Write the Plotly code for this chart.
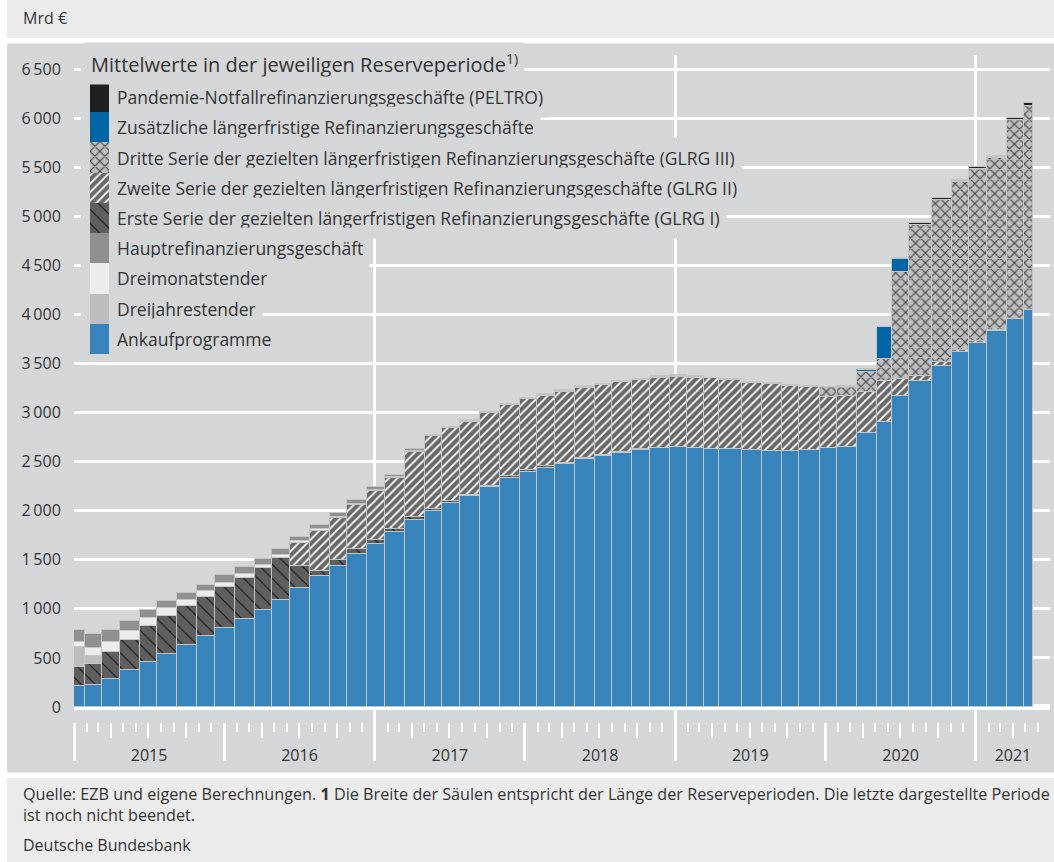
import pandas as pd
import plotly.graph_objects as go

# Beginn der Reserveperioden (die erste beginnt 2014 und wird an der Achse abgeschnitten)
period_start = [
    "2014-12-10", "2015-01-28", "2015-03-11", "2015-04-22", "2015-06-10", "2015-07-22",
    "2015-09-09", "2015-10-28", "2015-12-09",
    "2016-01-27", "2016-03-16", "2016-04-27", "2016-06-08", "2016-07-27", "2016-09-14",
    "2016-10-26", "2016-12-14",
    "2017-01-25", "2017-03-15", "2017-05-03", "2017-06-14", "2017-07-26", "2017-09-13",
    "2017-11-01", "2017-12-20",
    "2018-01-31", "2018-03-14", "2018-05-02", "2018-06-20", "2018-08-01", "2018-09-19",
    "2018-10-31", "2018-12-19",
    "2019-01-30", "2019-03-13", "2019-04-17", "2019-06-12", "2019-07-31", "2019-09-18",
    "2019-10-30", "2019-12-18",
    "2020-01-29", "2020-03-18", "2020-05-06", "2020-06-10", "2020-07-22", "2020-09-16",
    "2020-11-04", "2020-12-16",
    "2021-01-27", "2021-03-17", "2021-04-28",
]
last_period_end = "2021-05-20"  # letzte Periode noch nicht beendet

# Mrd € je Reserveperiode
ankauf = [
    210, 226, 282, 380, 463, 540, 635, 723, 805,
    897, 988, 1094, 1216, 1335, 1436, 1559, 1661,
    1783, 1905, 1997, 2075, 2150, 2241, 2336, 2398,
    2438, 2476, 2523, 2557, 2588, 2622, 2639, 2647,
    2642, 2632, 2626, 2618, 2610, 2606, 2618, 2639,
    2652, 2788, 2907, 3168, 3321, 3476, 3612, 3712,
    3831, 3950, 4045,
]
glrg1 = [
    195, 208, 278, 303, 359, 387, 394, 398, 414,
    421, 425, 427, 217, 54, 58, 54, 40,
    30, 27, 20, 20, 15, 15, 15, 15,
    15, 15, 12, 12, 12, 8, 0, 0,
    0, 0, 0, 0, 0, 0, 0, 0,
    0, 0, 0, 0, 0, 0, 0, 0,
    0, 0, 0,
]
glrg2 = [
    0, 0, 0, 0, 0, 0, 0, 0, 0,
    0, 0, 0, 234, 407, 428, 448, 496,
    517, 669, 741, 744, 742, 736, 724, 723,
    720, 723, 720, 710, 709, 703, 718, 719,
    715, 715, 707, 688, 682, 662, 647, 516,
    516, 425, 418, 170, 51, 34, 25, 20,
    10, 0, 0,
]
glrg3 = [0] * 40 + [102, 96, 203, 224, 1094, 1539, 1655, 1715, 1749, 1756, 2030, 2078]
zusaetzlich = [0] * 42 + [21, 319, 132, 0, 0, 0, 0, 0, 0, 0]
dreijahr = [210, 82] + [0] * 50
dreimonat = [
    52, 84, 106, 95, 85, 78, 61, 57, 44,
    37, 37, 28, 21, 17, 14, 11, 14,
    10, 8, 6, 6, 5, 5, 5, 5,
    5, 5, 4, 4, 4, 4, 4, 4,
    4, 3, 3, 3, 3, 3, 3, 3,
    3, 2, 2, 1, 1, 1, 1, 1,
    1, 1, 1,
]
haupt = [
    116, 142, 118, 98, 81, 72, 75, 68, 78,
    68, 61, 57, 47, 45, 44, 37, 34,
    25, 16, 8, 9, 9, 6, 7, 7,
    7, 7, 8, 8, 8, 8, 8, 8,
    8, 7, 7, 6, 6, 6, 6, 4,
    7, 7, 1, 1, 1, 1, 1, 0.5,
    0.5, 0.3, 0.3,
]
peltro = [0] * 43 + [0.5, 5, 13, 17, 17, 21, 20, 21, 27]

y_ticks = list(range(0, 6501, 500))
years = [2015, 2016, 2017, 2018, 2019, 2020, 2021]

X_START, X_END = "2015-01-01", "2021-06-30"

PANEL = "#d5d6d8"
BAND = "#ebebec"
TEXT = "#333333"
EDGE = "#c4c5c7"

STYLES = {
    "ankauf": dict(color="#3784bd"),
    "dreijahr": dict(color="#bcbdbf"),
    "dreimonat": dict(color="#ececed"),
    "haupt": dict(color="#8f9092"),
    "glrg1": dict(color="#5f5f5f", pattern=dict(shape="\\", fgcolor="#111111", bgcolor="#5f5f5f",
                                                size=10, solidity=0.1, fillmode="replace")),
    "glrg2": dict(color="#6a6a6a", pattern=dict(shape="/", fgcolor="#ffffff", bgcolor="#6a6a6a",
                                                size=6, solidity=0.3, fillmode="replace")),
    "glrg3": dict(color="#bfbfc1", pattern=dict(shape="x", fgcolor="#454545", bgcolor="#bfbfc1",
                                                size=7, solidity=0.3, fillmode="replace")),
    "zus": dict(color="#0065a5"),
    "peltro": dict(color="#1f1f1f"),
}

LABELS = {
    "peltro": "Pandemie-Notfallrefinanzierungsgeschäfte (PELTRO)",
    "zus": "Zusätzliche längerfristige Refinanzierungsgeschäfte",
    "glrg3": "Dritte Serie der gezielten längerfristigen Refinanzierungsgeschäfte (GLRG III)",
    "glrg2": "Zweite Serie der gezielten längerfristigen Refinanzierungsgeschäfte (GLRG II)",
    "glrg1": "Erste Serie der gezielten längerfristigen Refinanzierungsgeschäfte (GLRG I)",
    "haupt": "Hauptrefinanzierungsgeschäft",
    "dreimonat": "Dreimonatstender",
    "dreijahr": "Dreijahrestender",
    "ankauf": "Ankaufprogramme",
}

# Stapelreihenfolge in den Säulen (von unten nach oben)
stack_order = [
    ("ankauf", ankauf), ("glrg1", glrg1), ("glrg2", glrg2), ("glrg3", glrg3),
    ("zus", zusaetzlich), ("dreijahr", dreijahr), ("dreimonat", dreimonat),
    ("haupt", haupt), ("peltro", peltro),
]
legend_order = ["peltro", "zus", "glrg3", "glrg2", "glrg1", "haupt", "dreimonat", "dreijahr", "ankauf"]

# Plotfläche in Pixeln
L, R, T, B = 74, 1050, 55, 760
W, H = 1054, 862
Y_PER_PX = 1 / 0.0981538  # Mrd € je Pixel
Y_MIN = -(B - 707) * Y_PER_PX
Y_MAX = Y_MIN + (B - T) * Y_PER_PX


def px_x(px):
    return (px - L) / (R - L)


def px_y(py):
    return (B - py) / (B - T)


def px_date(px):
    a, b = pd.Timestamp(X_START), pd.Timestamp(X_END)
    return a + (b - a) * px_x(px)


def px_val(py):
    return Y_MIN + (B - py) * Y_PER_PX


def marker(key, edge=True):
    s = STYLES[key]
    m = dict(color=s["color"], line=dict(color=EDGE, width=1 if edge else 0))
    if "pattern" in s:
        m["pattern"] = s["pattern"]
    return m


starts = pd.to_datetime(period_start)
ends = list(starts[1:]) + [pd.Timestamp(last_period_end)]
centers = [s + (e - s) / 2 for s, e in zip(starts, ends)]
widths = [(e - s).total_seconds() * 1000 for s, e in zip(starts, ends)]

fig = go.Figure()

for key, values in stack_order:
    fig.add_trace(go.Bar(
        x=centers,
        y=[v if v else None for v in values],
        width=widths,
        name=LABELS[key],
        marker=marker(key),
        hoverinfo="skip",
    ))

# Legendenfelder als eigene kleine Säule
for key in reversed(legend_order):
    fig.add_trace(go.Bar(
        x=[0], y=[1], width=1, xaxis="x5", yaxis="y2",
        marker=marker(key, edge=False), hoverinfo="skip",
    ))

# unsichtbare Hilfsspuren, damit die Achsen für die Zeitstriche gezeichnet werden
for xa, ya in [("x2", "y3"), ("x3", "y4"), ("x4", "y5")]:
    fig.add_trace(go.Scatter(
        x=[X_START, X_END], y=[0.5, 0.5], xaxis=xa, yaxis=ya,
        mode="lines", line=dict(width=0, color="rgba(0,0,0,0)"), hoverinfo="skip",
    ))

# Beschriftung der Jahre mittig im sichtbaren Teil
x0, x1 = pd.Timestamp(X_START), pd.Timestamp(X_END)
year_mid = []
for y in years:
    a = max(pd.Timestamp(f"{y}-01-01"), x0)
    b = min(pd.Timestamp(f"{y + 1}-01-01"), x1)
    year_mid.append(a + (b - a) / 2)

tick_pos = px_y(722)
band = [tick_pos, tick_pos + 0.01]
hidden_y = dict(domain=band, range=[0, 1], visible=False, fixedrange=True)
tick_x = dict(type="date", range=[X_START, X_END], showgrid=False, zeroline=False, showline=False,
              showticklabels=False)

fig.update_layout(
    width=W, height=H,
    margin=dict(l=L, r=W - R, t=T, b=H - B),
    paper_bgcolor="white",
    plot_bgcolor="rgba(0,0,0,0)",
    barmode="stack",
    bargap=0,
    showlegend=False,
    font=dict(family="Open Sans", color=TEXT, size=16),
    xaxis=dict(
        type="date", range=[X_START, X_END],
        tickvals=["2017-01-01", "2019-01-01", "2021-01-01"],
        showgrid=True, gridcolor="white", gridwidth=3,
        showticklabels=False, ticks="", zeroline=False, showline=False,
    ),
    # Monats- und Quartalsstriche
    xaxis2=dict(tick_x, anchor="y3",
                tick0="2015-01-01", dtick="M3", ticks="outside", ticklen=15, tickwidth=2, tickcolor="white",
                minor=dict(dtick="M1", ticks="outside", ticklen=9, tickwidth=2, tickcolor="white")),
    # Jahresstriche
    xaxis3=dict(tick_x, anchor="y4",
                tick0="2015-01-01", dtick="M12", ticks="outside", ticklen=38, tickwidth=3, tickcolor="white"),
    # Jahreszahlen
    xaxis4=dict(tick_x, anchor="y5", showticklabels=True,
                tickvals=year_mid, ticktext=[str(y) for y in years],
                ticks="outside", ticklen=19, tickcolor="rgba(0,0,0,0)",
                tickfont=dict(size=16, color=TEXT)),
    xaxis5=dict(domain=[px_x(90), px_x(109)], anchor="y2", range=[-0.5, 0.5], visible=False),
    yaxis=dict(
        range=[Y_MIN, Y_MAX],
        tickvals=y_ticks,
        ticktext=[f"{v:,}".replace(",", "\u2009") for v in y_ticks],
        showgrid=True, gridcolor="white", gridwidth=3,
        zeroline=True, zerolinecolor="white", zerolinewidth=6,
        ticks="outside", ticklen=9, tickcolor="rgba(0,0,0,0)",
        tickfont=dict(size=16, color=TEXT),
        showline=False,
    ),
    yaxis2=dict(domain=[px_y(354), px_y(82)], anchor="x5", range=[0, 9], visible=False),
    yaxis3=dict(hidden_y, anchor="x2"),
    yaxis4=dict(hidden_y, anchor="x3"),
    yaxis5=dict(hidden_y, anchor="x4"),
)

shapes = [
    # Hintergrundflächen
    dict(type="rect", xref="paper", yref="paper", layer="below", line_width=0, fillcolor=BAND,
         x0=px_x(7), x1=px_x(W), y0=px_y(38), y1=px_y(0)),
    dict(type="rect", xref="paper", yref="paper", layer="below", line_width=0, fillcolor=PANEL,
         x0=px_x(7), x1=px_x(W), y0=px_y(772.5), y1=px_y(43.5)),
    dict(type="rect", xref="paper", yref="paper", layer="below", line_width=0, fillcolor=BAND,
         x0=px_x(7), x1=px_x(W), y0=px_y(H), y1=px_y(778)),
    # Gitterlinien links neben der Legende ausblenden
    dict(type="rect", xref="x", yref="y", layer="between", line_width=0, fillcolor=PANEL,
         x0=px_date(81), x1=px_date(112), y0=px_val(356), y1=Y_MAX),
]
fig.update_layout(shapes=shapes)

annotations = [
    dict(text="Mrd €", x=px_x(21), y=px_y(18), xanchor="left", yanchor="middle",
         font=dict(size=16, color=TEXT)),
    dict(text="Quelle: EZB und eigene Berechnungen. <b>1</b> Die Breite der Säulen entspricht der Länge "
              "der Reserveperioden. Die letzte dargestellte Periode<br>ist noch nicht beendet.",
         x=px_x(21), y=px_y(781), xanchor="left", yanchor="top", align="left",
         font=dict(size=16.2, color=TEXT)),
    dict(text="Deutsche Bundesbank", x=px_x(21), y=px_y(845), xanchor="left", yanchor="middle",
         font=dict(size=16, color=TEXT)),
    dict(text="Mittelwerte in der jeweiligen Reserveperiode<sup>1)</sup>",
         x=px_x(84), y=px_y(63), xanchor="left", yanchor="middle",
         font=dict(size=20, color=TEXT), bgcolor=PANEL, borderpad=6),
]
row_h = (354 - 82) / len(legend_order)
for i, key in enumerate(legend_order):
    annotations.append(dict(
        text=LABELS[key], x=px_x(110), y=px_y(82 + row_h * (i + 0.5)),
        xanchor="left", yanchor="middle", font=dict(size=17.5, color=TEXT),
        bgcolor=PANEL, borderpad=6, height=28,
    ))
for a in annotations:
    a.update(xref="paper", yref="paper", showarrow=False)
fig.update_layout(annotations=annotations)

fig.write_html("out.html", config={"displayModeBar": False},
               post_script="document.body.style.margin = '0';")
